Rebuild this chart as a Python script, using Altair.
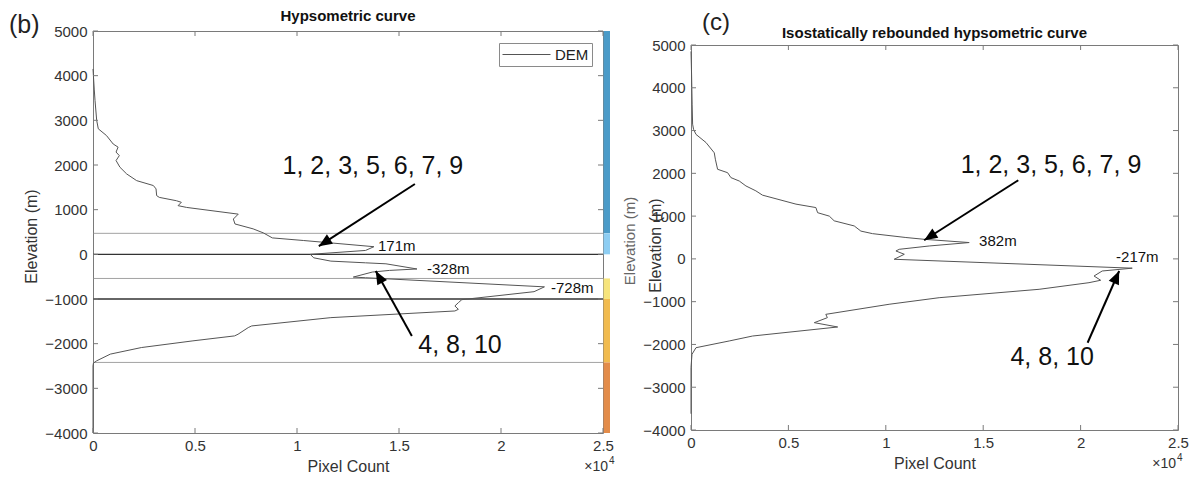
import altair as alt
import pandas as pd
import numpy as np

FONT = "Liberation Sans"
TXT = "#333333"
FRAME = "#7a7a7a"
CURVE = "#555555"

# ---------------- shared axes ----------------
X_DOMAIN = [0, 25000]
Y_DOMAIN = [-4000, 5000]
X_TICKS = [0, 5000, 10000, 15000, 20000, 25000]
X_TICK_LABELS = ["0", "0.5", "1", "1.5", "2", "2.5"]
Y_TICKS = [-4000, -3000, -2000, -1000, 0, 1000, 2000, 3000, 4000, 5000]
LEGEND_LABEL = "DEM"

# ---------------- panel (b): hypsometric curve ----------------
b_count = [0, 60, 100, 180, 260, 660, 990, 1230, 1130, 1290, 1130, 1320, 1650, 2140, 2960,
           3090, 3120, 3250, 4090, 4330, 4170, 4590, 7120, 6880, 6960, 7850, 8350, 8790, 10310,
           13770, 13360, 10650, 10820, 11660, 13360, 14360, 15880, 14530, 13690, 12760, 13360,
           22130, 21620, 18080, 17910, 17740, 17910, 17740, 11660, 7780, 7610, 7110, 6940, 4900,
           2370, 850, 180, 20, 0, 0]
b_elev = [4150, 3700, 3440, 3000, 2810, 2660, 2470, 2400, 2290, 2210, 2100, 1950, 1800, 1650, 1540,
          1465, 1315, 1275, 1200, 1165, 1090, 1050, 900, 790, 680, 570, 480, 368, 310,
          171, 87, 0, -78, -152, -190, -212, -328, -360, -397, -509, -524,
          -728, -836, -1015, -1082, -1156, -1231, -1268, -1417, -1603, -1640, -1789, -1826, -1937,
          -2087, -2234, -2384, -2435, -2500, -4000]

b_hline_elev = [470, 0, -540, -1000, -2420]
b_hline_color = ["#8a8a8a", "#333333", "#8a8a8a", "#333333", "#8a8a8a"]
b_hline_width = [0.8, 1.3, 0.8, 1.3, 0.8]

b_band_top = [5000, 470, -540, -1000, -2420]
b_band_bottom = [470, 0, -1000, -2420, -4000]
b_band_color = ["#4b9bc8", "#8dcdf2", "#f6e47c", "#f1bb4f", "#e38c4a"]

b_peak_x = [13970, 16370, 22450]
b_peak_y = [190, -330, -760]
b_peak_text = ["171m", "-328m", "-728m"]

b_group_x = [13720, 17990]
b_group_y = [1969, -2030]
b_group_text = ["1, 2, 3, 5, 6, 7, 9", "4, 8, 10"]

b_arrow_x1 = [15780, 15630]
b_arrow_y1 = [1574, -1826]
b_arrow_x2 = [11070, 13860]
b_arrow_y2 = [183, -375]

# ---------------- panel (c): isostatically rebounded curve ----------------
c_count = [0, 30, 60, 82, 130, 256, 770, 1195, 1250, 1365, 1880, 2050, 2480, 2820, 3330,
           3670, 5390, 6410, 6500, 7100, 7350, 8380, 8720, 9320, 11030, 11970, 14280, 12230,
           10690, 10520, 10950, 10430, 22650, 21110, 20690, 21030, 20430, 17870, 12740, 10170,
           6920, 7000, 6330, 7530, 3160, 1960, 256, 50, 0, 0]
c_elev = [4850, 4300, 3600, 3150, 3030, 2910, 2720, 2480, 2330, 2095, 2015, 1900, 1820, 1705, 1590,
          1490, 1280, 1200, 1080, 1000, 890, 770, 650, 590, 500, 458, 382, 302,
          224, 185, 108, -9, -217, -283, -400, -500, -556, -711, -907, -1061,
          -1296, -1374, -1491, -1592, -1803, -1919, -2076, -2230, -2540, -3620]

c_peak_x = [14790, 21820]
c_peak_y = [418, 44]
c_peak_text = ["382m", "-217m"]

c_group_x = [18480, 18540]
c_group_y = [2195, -2290]
c_group_text = ["1, 2, 3, 5, 6, 7, 9", "4, 8, 10"]

c_arrow_x1 = [16800, 20360]
c_arrow_y1 = [1838, -1960]
c_arrow_x2 = [11970, 21980]
c_arrow_y2 = [435, -283]

ARROW_HEAD = "M0,0L-0.42,1L0.42,1Z"
LEGEND_SYMBOL = "M-1,0H5"


def label_expr(values, labels):
    expr = "''"
    for v, l in reversed(list(zip(values, labels))):
        expr = f"datum.value == {v} ? '{l}' : ({expr})"
    return expr


def text_layer(txt, x, y, **style):
    return alt.Chart(pd.DataFrame({"t": [txt]})).mark_text(font=FONT, **style).encode(
        x=alt.value(x), y=alt.value(y), text="t:N")


def panel(W, H, count, elev, title, title_y, tag, tag_pos, tag_size, peaks, groups, arrows,
          legend_xy, ytitle_xy, exp_pos, bands=None, hlines=None, side_label=None):
    xs = alt.Scale(domain=X_DOMAIN, nice=False, zero=False)
    ys = alt.Scale(domain=Y_DOMAIN, nice=False, zero=False)

    xaxis = alt.Axis(values=X_TICKS, labelExpr=label_expr(X_TICKS, X_TICK_LABELS), ticks=False,
                     domain=False, grid=False, labelPadding=5, labelFontSize=15, labelColor=TXT,
                     labelFont=FONT, labelFlush=False, labelOverlap=False, title="Pixel Count",
                     titleFont=FONT, titleFontSize=16, titleFontWeight="normal", titleColor=TXT,
                     titlePadding=5)
    yaxis = alt.Axis(values=Y_TICKS, format="d", ticks=False, domain=False, grid=False,
                     labelPadding=6, labelFontSize=15, labelColor=TXT, labelFont=FONT,
                     labelFlush=False, labelOverlap=False, title="Elevation (m)", titleFont=FONT,
                     titleFontSize=16, titleFontWeight="normal", titleColor=TXT,
                     titleX=ytitle_xy[0], titleY=ytitle_xy[1], titleBaseline="middle",
                     titleAlign="center", titleAngle=270)

    def X(f):
        return alt.X(f, scale=xs, axis=xaxis)

    def Y(f):
        return alt.Y(f, scale=ys, axis=yaxis)

    layers = []

    if bands is not None:
        bdf = pd.DataFrame({"top": bands[0], "bot": bands[1], "col": bands[2]})
        layers.append(alt.Chart(bdf).mark_rect().encode(
            x=alt.value(W + 0.5), x2=alt.value(W + 7),
            y=Y("top:Q"), y2="bot:Q",
            color=alt.Color("col:N", scale=None)))

    if hlines is not None:
        hdf = pd.DataFrame({"e": hlines[0], "c": hlines[1], "w": hlines[2]})
        layers.append(alt.Chart(hdf).mark_rule().encode(
            y=Y("e:Q"),
            color=alt.Color("c:N", scale=None),
            strokeWidth=alt.StrokeWidth("w:Q", scale=None)))

    cdf = pd.DataFrame({"count": count, "elev": elev, "i": list(range(len(count))),
                        "series": [LEGEND_LABEL] * len(count)})
    layers.append(alt.Chart(cdf).mark_line(strokeWidth=1).encode(
        x=X("count:Q"),
        y=Y("elev:Q"),
        order="i:Q",
        color=alt.Color("series:N", scale=alt.Scale(range=[CURVE]),
                        legend=alt.Legend(title=None, orient="none", legendX=legend_xy[0],
                                          legendY=legend_xy[1], symbolType=LEGEND_SYMBOL,
                                          symbolSize=256, symbolStrokeWidth=1,
                                          labelFont=FONT, labelFontSize=15, labelColor="#222",
                                          strokeColor="#8a8a8a", fillColor="white",
                                          padding=3, cornerRadius=0, labelOffset=36))))

    # inward tick marks on all four sides
    ydf = pd.DataFrame({"v": Y_TICKS})
    xdf = pd.DataFrame({"v": X_TICKS})
    tick_style = dict(color=FRAME, strokeWidth=1)
    layers.append(alt.Chart(ydf).mark_rule(**tick_style).encode(
        y=Y("v:Q"), x=alt.value(0), x2=alt.value(5)))
    layers.append(alt.Chart(ydf).mark_rule(**tick_style).encode(
        y=Y("v:Q"), x=alt.value(W - 5), x2=alt.value(W)))
    layers.append(alt.Chart(xdf).mark_rule(**tick_style).encode(
        x=X("v:Q"), y=alt.value(H), y2=alt.value(H - 5)))
    layers.append(alt.Chart(xdf).mark_rule(**tick_style).encode(
        x=X("v:Q"), y=alt.value(0), y2=alt.value(5)))

    # arrows
    ax1, ay1, ax2, ay2 = arrows
    ang = []
    for a, b, c, d in zip(ax1, ay1, ax2, ay2):
        dx = (c - a) * W / (X_DOMAIN[1] - X_DOMAIN[0])
        dy = -(d - b) * H / (Y_DOMAIN[1] - Y_DOMAIN[0])
        ang.append(float(np.degrees(np.arctan2(dx, -dy)) % 360))
    adf = pd.DataFrame({"x1": ax1, "y1": ay1, "x2": ax2, "y2": ay2, "ang": ang})
    layers.append(alt.Chart(adf).mark_rule(color="black", strokeWidth=2).encode(
        x=X("x1:Q"), y=Y("y1:Q"), x2="x2:Q", y2="y2:Q"))
    layers.append(alt.Chart(adf).mark_point(shape=ARROW_HEAD, filled=True, color="black",
                                            size=700, opacity=1, strokeWidth=0).encode(
        x=X("x2:Q"), y=Y("y2:Q"), angle=alt.Angle("ang:Q", scale=None)))

    # peak labels
    pdf = pd.DataFrame({"x": peaks[0], "y": peaks[1], "t": peaks[2]})
    layers.append(alt.Chart(pdf).mark_text(align="left", baseline="middle", font=FONT,
                                           fontSize=15, color="#111").encode(
        x=X("x:Q"), y=Y("y:Q"), text="t:N"))

    # group labels
    gdf = pd.DataFrame({"x": groups[0], "y": groups[1], "t": groups[2]})
    layers.append(alt.Chart(gdf).mark_text(align="center", baseline="middle", font=FONT,
                                           fontSize=25, color="#111").encode(
        x=X("x:Q"), y=Y("y:Q"), text="t:N"))

    # panel title and tag
    layers.append(text_layer(title, W / 2, title_y, align="center", baseline="middle",
                             fontSize=15, fontWeight="bold", color="#111"))
    layers.append(text_layer(tag, tag_pos[0], tag_pos[1], align="left", baseline="middle",
                             fontSize=tag_size, color="#222"))

    # x10^4 exponent
    layers.append(text_layer("\u00d710", exp_pos, H + 34, align="right", baseline="middle",
                             fontSize=14, color=TXT))
    layers.append(text_layer("4", exp_pos + 1, H + 28, align="left", baseline="middle",
                             fontSize=10, color=TXT))

    if side_label is not None:
        layers.append(text_layer(side_label[0], side_label[1], side_label[2], align="center",
                                 baseline="middle", fontSize=15, color="#666", angle=270))

    return alt.layer(*layers).properties(
        width=W, height=H,
        view=alt.ViewBackground(stroke=FRAME, strokeWidth=1))


WB, HB = 510, 402
WC, HC = 487, 385

left = panel(WB, HB, b_count, b_elev, "Hypsometric curve", -15, "(b)", (-84, -6), 25,
             (b_peak_x, b_peak_y, b_peak_text), (b_group_x, b_group_y, b_group_text),
             (b_arrow_x1, b_arrow_y1, b_arrow_x2, b_arrow_y2), (406, 12), (-62, 205),
             WB + 5,
             bands=(b_band_top, b_band_bottom, b_band_color),
             hlines=(b_hline_elev, b_hline_color, b_hline_width),
             side_label=("Elevation (m)", WB + 27, 210))

right = panel(WC, HC, c_count, c_elev, "Isostatically rebounded hypsometric curve", -12, "(c)",
              (11, -22), 24, (c_peak_x, c_peak_y, c_peak_text),
              (c_group_x, c_group_y, c_group_text),
              (c_arrow_x1, c_arrow_y1, c_arrow_x2, c_arrow_y2), (388, 11), (-36, 200),
              WC - 2)

spacer = alt.Chart(pd.DataFrame({"a": [0]})).mark_point(opacity=0).encode(
    x=alt.value(0), y=alt.value(0)).properties(
    width=WC, height=14, view=alt.ViewBackground(stroke=None))

right_col = alt.vconcat(spacer, right, spacing=0, bounds="flush")

chart = alt.hconcat(left, right_col, spacing=88, bounds="flush").properties(
    padding=0).configure(font=FONT).configure_view(stroke=None)

chart.save("out.html", embed_options={"renderer": "svg", "actions": False})
